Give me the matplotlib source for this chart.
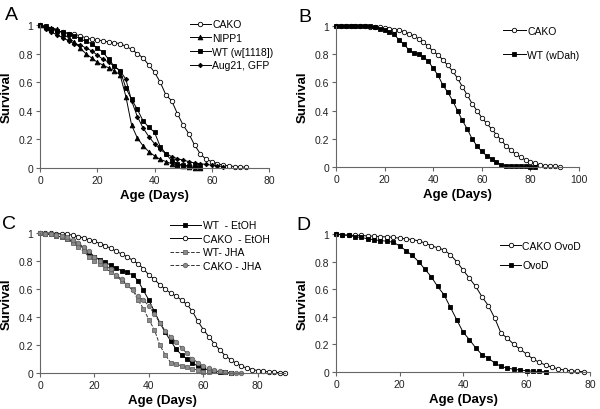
import matplotlib
matplotlib.use("Agg")
from matplotlib import pyplot as plt
import numpy as np

plt.rcParams['font.family'] = ['Liberation Sans', 'DejaVu Sans']

# ---- Panel A ----
a_cako = [1.0, 0.98, 0.97, 0.96, 0.95, 0.94, 0.935, 0.925, 0.91, 0.9,
          0.895, 0.89, 0.88, 0.875, 0.87, 0.85, 0.83, 0.8, 0.77, 0.72,
          0.67, 0.6, 0.51, 0.47, 0.38, 0.3, 0.24, 0.16, 0.1, 0.06,
          0.045, 0.03, 0.02, 0.015, 0.01, 0.008, 0.005]
a_nipp1 = [1.0, 0.99, 0.98, 0.97, 0.94, 0.91, 0.88, 0.84, 0.8, 0.77,
           0.74, 0.72, 0.7, 0.68, 0.65, 0.5, 0.3, 0.21, 0.155, 0.115,
           0.085, 0.06, 0.045, 0.03, 0.02, 0.012, 0.006, 0.003, 0.0]
a_wt = [1.0, 0.99, 0.975, 0.96, 0.95, 0.94, 0.925, 0.905, 0.885, 0.87,
        0.84, 0.81, 0.76, 0.71, 0.68, 0.56, 0.48, 0.41, 0.33, 0.285,
        0.25, 0.15, 0.1, 0.05, 0.03, 0.02, 0.015, 0.012, 0.01]
a_aug21 = [1.0, 0.97, 0.95, 0.93, 0.91, 0.89, 0.87, 0.86, 0.84, 0.82,
           0.79, 0.76, 0.74, 0.71, 0.68, 0.62, 0.47, 0.36, 0.28, 0.22,
           0.17, 0.13, 0.1, 0.08, 0.065, 0.055, 0.045, 0.035, 0.03, 0.025,
           0.02, 0.015, 0.01]

# ---- Panel B ----
b_cako = [1.0, 1.0, 1.0, 1.0, 1.0, 1.0, 1.0, 0.995, 0.995, 0.99,
          0.985, 0.98, 0.975, 0.97, 0.96, 0.945, 0.93, 0.91, 0.885, 0.855,
          0.82, 0.795, 0.76, 0.72, 0.68, 0.63, 0.57, 0.51, 0.45, 0.4,
          0.35, 0.31, 0.27, 0.23, 0.19, 0.15, 0.12, 0.09, 0.07, 0.05,
          0.035, 0.025, 0.015, 0.01, 0.007, 0.004, 0.002]
b_wt = [1.0, 1.0, 1.0, 1.0, 1.0, 1.0, 1.0, 1.0, 0.99, 0.98,
        0.97, 0.96, 0.94, 0.9, 0.87, 0.83, 0.81, 0.8, 0.78, 0.75,
        0.7, 0.65, 0.58, 0.53, 0.47, 0.4, 0.33, 0.27, 0.2, 0.15,
        0.11, 0.08, 0.06, 0.035, 0.015, 0.01, 0.008, 0.006, 0.005, 0.004,
        0.003, 0.002]

# ---- Panel C ----
c_wt_etoh = [1.0, 0.99, 0.99, 0.98, 0.97, 0.96, 0.94, 0.92, 0.89, 0.86,
             0.83, 0.81, 0.79, 0.77, 0.75, 0.73, 0.72, 0.7, 0.66, 0.59,
             0.52, 0.44, 0.36, 0.29, 0.23, 0.17, 0.13, 0.1, 0.07, 0.05,
             0.035, 0.02, 0.012, 0.008, 0.005, 0.003]
c_cako_etoh = [1.0, 1.0, 1.0, 0.995, 0.995, 0.99, 0.985, 0.975, 0.965, 0.95,
               0.94, 0.925, 0.91, 0.89, 0.87, 0.85, 0.83, 0.805, 0.78, 0.745,
               0.7, 0.67, 0.63, 0.6, 0.57, 0.55, 0.52, 0.49, 0.44, 0.37,
               0.31, 0.26, 0.21, 0.165, 0.125, 0.095, 0.07, 0.05, 0.035, 0.025,
               0.017, 0.012, 0.008, 0.005, 0.003, 0.002]
c_wt_jha = [1.0, 0.99, 0.99, 0.98, 0.97, 0.96, 0.93, 0.9, 0.87, 0.83,
            0.8, 0.78, 0.75, 0.72, 0.69, 0.66, 0.63, 0.6, 0.52, 0.46,
            0.38, 0.31, 0.2, 0.13, 0.075, 0.065, 0.05, 0.04, 0.03, 0.02,
            0.01, 0.005]
c_cako_jha = [1.0, 0.995, 0.99, 0.985, 0.98, 0.97, 0.95, 0.93, 0.9, 0.87,
              0.83, 0.8, 0.77, 0.74, 0.7, 0.67, 0.63, 0.59, 0.55, 0.52,
              0.48, 0.42, 0.36, 0.3, 0.26, 0.22, 0.18, 0.14, 0.1, 0.075,
              0.05, 0.035, 0.02, 0.012, 0.006, 0.003, 0.001, 0.0]

# ---- Panel D ----
d_cako_ovod = [1.0, 0.995, 0.99, 0.99, 0.99, 0.985, 0.985, 0.98, 0.98, 0.975,
               0.97, 0.965, 0.96, 0.95, 0.935, 0.915, 0.9, 0.885, 0.85, 0.8,
               0.74, 0.68, 0.62, 0.545, 0.48, 0.39, 0.28, 0.245, 0.2, 0.165,
               0.13, 0.095, 0.07, 0.05, 0.035, 0.022, 0.014, 0.008, 0.005, 0.002]
d_ovod = [1.0, 0.995, 0.99, 0.98, 0.975, 0.965, 0.958, 0.952, 0.948, 0.94,
          0.915, 0.88, 0.845, 0.8, 0.745, 0.69, 0.62, 0.56, 0.47, 0.38,
          0.29, 0.235, 0.175, 0.125, 0.1, 0.065, 0.04, 0.028, 0.02, 0.014,
          0.009, 0.006, 0.004, 0.002]

y_ticks = [0, 0.2, 0.4, 0.6, 0.8, 1]
y_labels = ["0", "0.2", "0.4", "0.6", "0.8", "1"]


def days(vals):
    return np.arange(len(vals)) * 2


def style_axes(ax, xmax, xstep, letter):
    ax.set_xlim(0, xmax)
    ax.set_ylim(0, 1)
    ax.set_xticks(np.arange(0, xmax + 1, xstep))
    ax.set_yticks(y_ticks)
    ax.set_yticklabels(y_labels)
    for s in ["top", "right"]:
        ax.spines[s].set_visible(False)
    for s in ["left", "bottom"]:
        ax.spines[s].set_linewidth(0.8)
        ax.spines[s].set_color("#666666")
    ax.tick_params(direction="out", length=3, width=0.8, color="#666666",
                   labelsize=7.5, pad=2, labelcolor="#222222")
    ax.set_xlabel("Age (Days)", fontsize=9.5, fontweight="bold", labelpad=3)
    ax.set_ylabel("Survival", fontsize=9.5, fontweight="bold", labelpad=4)
    ax.text(-0.155, 1.13, letter, transform=ax.transAxes, fontsize=14,
            ha="left", va="top")


def series(ax, y, label, marker, face="black", edge="black", ms=3.2,
           ls="-", lc="black"):
    ax.plot(days(y), y, ls, color=lc, lw=0.7, marker=marker, ms=ms,
            mfc=face, mec=edge, mew=0.6, label=label, clip_on=False)


fig = plt.figure(figsize=(6, 4.1), dpi=100)
W, H = 600.0, 410.0


def box(l, r, t, b):
    return [l / W, 1 - b / H, (r - l) / W, (b - t) / H]


axA = fig.add_axes(box(40, 269, 26, 169))
series(axA, a_cako, "CAKO", "o", face="white")
series(axA, a_nipp1, "NIPP1", "^", ms=3.4)
series(axA, a_wt, "WT (w[1118])", "s")
series(axA, a_aug21, "Aug21, GFP", "D", ms=2.3)
style_axes(axA, 80, 20, "A")
axA.legend(loc="upper left", bbox_to_anchor=(0.655, 1.04), frameon=False,
           fontsize=7.5, handlelength=2.0, handletextpad=0.15,
           labelspacing=0.35, borderpad=0, borderaxespad=0)

axB = fig.add_axes(box(336, 579, 27, 168))
series(axB, b_cako, "CAKO", "o", face="white")
series(axB, b_wt, "WT (wDah)", "s")
style_axes(axB, 100, 20, "B")
axB.legend(loc="upper left", bbox_to_anchor=(0.687, 1.0), frameon=False,
           fontsize=7.5, handlelength=2.2, handletextpad=0.15,
           labelspacing=1.3, borderpad=0, borderaxespad=0)

axC = fig.add_axes(box(40, 285, 234, 374))
series(axC, c_wt_etoh, "WT  - EtOH", "s")
series(axC, c_cako_etoh, "CAKO  - EtOH", "o", face="white")
series(axC, c_wt_jha, "WT- JHA", "s", face="#8c8c8c", edge="#666666",
       ls="--", lc="#333333")
series(axC, c_cako_jha, "CAKO - JHA", "o", face="#8c8c8c", edge="#666666",
       ls="--", lc="#333333")
style_axes(axC, 90, 20, "C")
axC.set_xticks([0, 20, 40, 60, 80])
axC.legend(loc="upper left", bbox_to_anchor=(0.53, 1.09), frameon=False,
           fontsize=7.5, handlelength=3.0, handletextpad=0.15,
           labelspacing=0.33, borderpad=0, borderaxespad=0)

axD = fig.add_axes(box(336, 590, 235, 373))
series(axD, d_cako_ovod, "CAKO OvoD", "o", face="white")
series(axD, d_ovod, "OvoD", "s")
style_axes(axD, 80, 20, "D")
axD.legend(loc="upper left", bbox_to_anchor=(0.646, 0.95), frameon=False,
           fontsize=7.5, handlelength=2.0, handletextpad=0.15,
           labelspacing=0.9, borderpad=0, borderaxespad=0)

fig.savefig("out.png", dpi=100)
